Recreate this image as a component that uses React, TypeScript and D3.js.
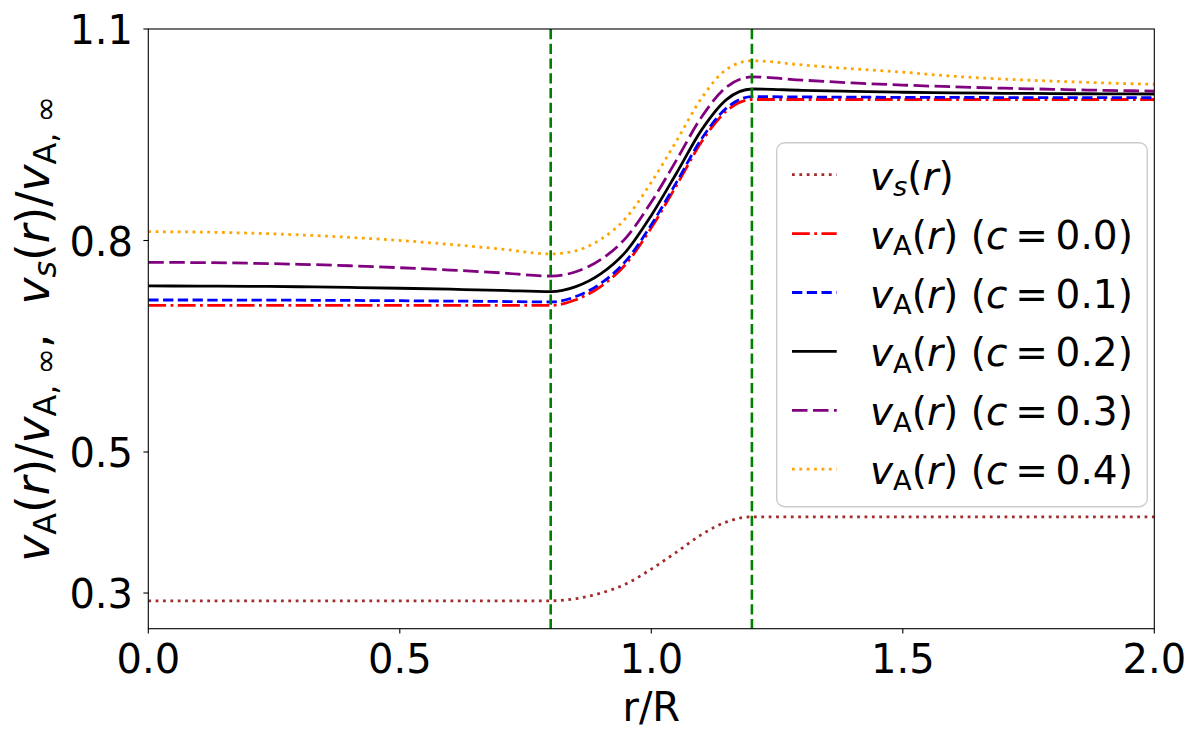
import React from 'react';
import * as d3 from 'd3';

// ---- data ----
const rValues = [0, 0.1, 0.2, 0.3, 0.4, 0.5, 0.6, 0.7, 0.8, 0.85, 0.9, 0.95, 1.0, 1.05, 1.1, 1.15, 1.2, 1.3, 1.4, 1.5, 1.6, 1.7, 1.8, 1.9, 2.0];

const vsValues = [0.289, 0.289, 0.289, 0.289, 0.289, 0.289, 0.289, 0.289, 0.289,
  0.292, 0.300, 0.313, 0.334, 0.358, 0.383, 0.401, 0.408,
  0.408, 0.408, 0.408, 0.408, 0.408, 0.408, 0.408, 0.408];

const vaC00 = [0.708, 0.708, 0.708, 0.708, 0.708, 0.708, 0.708, 0.708, 0.708,
  0.716, 0.735, 0.767, 0.818, 0.878, 0.940, 0.984, 1.0,
  1.0, 1.0, 1.0, 1.0, 1.0, 1.0, 1.0, 1.0];

const vaC01 = [0.7156, 0.7156, 0.7155, 0.7153, 0.7150, 0.7146, 0.7141, 0.7135, 0.7128,
  0.7205, 0.7394, 0.7714, 0.8224, 0.8824, 0.9444, 0.9882, 1.004,
  1.0036, 1.0033, 1.0031, 1.0029, 1.0028, 1.0027, 1.0026, 1.0025];

const vaC02 = [0.7355, 0.7354, 0.735, 0.7344, 0.7335, 0.7323, 0.7309, 0.7293, 0.7274,
  0.7346, 0.753, 0.7846, 0.8356, 0.8954, 0.9569, 1.0002, 1.0149,
  1.013, 1.0115, 1.0103, 1.0095, 1.0088, 1.0084, 1.008, 1.0078];

const vaC03 = [0.769, 0.7687, 0.7678, 0.7663, 0.7642, 0.7614, 0.7581, 0.7542, 0.7496,
  0.7557, 0.7732, 0.8042, 0.8546, 0.914, 0.9753, 1.018, 1.032,
  1.0275, 1.0235, 1.0205, 1.018, 1.016, 1.0145, 1.013, 1.012];

const vaC04 = [0.8125, 0.812, 0.8105, 0.808, 0.8045, 0.800, 0.7945, 0.788, 0.781,
  0.7855, 0.8019, 0.8322, 0.8826, 0.9412, 1.002, 1.043, 1.055,
  1.049, 1.0435, 1.0388, 1.033, 1.029, 1.026, 1.0235, 1.0216];

const cLabels = ['0.0', '0.1', '0.2', '0.3', '0.4'];
const xTicks = [0, 0.5, 1.0, 1.5, 2.0];
const yTicks = [0.3, 0.5, 0.8, 1.1];
const boundaryR = [0.8, 1.2];

// ---- layout / style ----
const W = 1200;
const H = 731;
const PL = 148.3, PR = 1154.3, PT = 29, PB = 628.7;
const FONT = 'DejaVu Sans';
const TICK_FS = 40;
const LEG_FS = 39;
const YLAB_FS = 45.5;
const LW = 2.78;

type Seg = { t: string; it?: boolean; sub?: boolean; dx?: number };

function MathTspans({ segs, fs }: { segs: Seg[]; fs: number }) {
  const out: React.ReactNode[] = [];
  let cur = 0;
  const shift = 0.16 * fs;
  segs.forEach((s, i) => {
    const target = s.sub ? shift : 0;
    const dy = target - cur;
    cur = target;
    out.push(
      <tspan key={i} dy={dy !== 0 ? dy : undefined} dx={s.dx}
        fontStyle={s.it ? 'italic' : 'normal'}
        fontSize={s.sub ? fs * 0.7 : fs}>{s.t}</tspan>
    );
  });
  return <>{out}</>;
}

const series = [
  { values: vsValues, color: '#a52a2a', dash: '2.78,4.59', lw: LW },
  { values: vaC00, color: '#ff0000', dash: '17.8,4.45,2.78,4.45', lw: LW },
  { values: vaC01, color: '#0000ff', dash: '10.3,4.45', lw: LW },
  { values: vaC02, color: '#000000', dash: undefined as string | undefined, lw: LW },
  { values: vaC03, color: '#800080', dash: '15.5,5.5', lw: LW },
  { values: vaC04, color: '#ffa500', dash: '2.78,4.59', lw: LW },
];

export default function App() {
  const x = d3.scaleLinear().domain([0, 2]).range([PL, PR]);
  const y = d3.scaleLinear().domain([0.2494, 1.1]).range([PB, PT]);

  const lineGen = (vals: number[]) =>
    d3.line<number>()
      .x((_, i) => x(rValues[i]))
      .y((v) => y(v))
      .curve(d3.curveMonotoneX)(vals) || '';

  const relSp = 0.2 * LEG_FS;
  const vsLabel: Seg[] = [{ t: 'v', it: true }, { t: 's', it: true, sub: true }, { t: '(' }, { t: 'r', it: true }, { t: ')' }];
  const vaLabel = (c: string): Seg[] => [
    { t: 'v', it: true }, { t: 'A', sub: true }, { t: '(' }, { t: 'r', it: true }, { t: ')\u00a0(' },
    { t: 'c', it: true }, { t: '=', dx: relSp }, { t: c + ')', dx: relSp },
  ];
  const legendLabels: Seg[][] = [vsLabel, ...cLabels.map(vaLabel)];

  const yLabel: Seg[] = [
    { t: 'v', it: true }, { t: 'A', sub: true }, { t: '(' }, { t: 'r', it: true }, { t: ')/' },
    { t: 'v', it: true }, { t: 'A,\u00a0∞', sub: true }, { t: ',\u00a0\u00a0' },
    { t: 'v', it: true }, { t: 's', it: true, sub: true }, { t: '(' }, { t: 'r', it: true }, { t: ')/' },
    { t: 'v', it: true }, { t: 'A,\u00a0∞', sub: true },
  ];

  const legX = 776.7, legY = 142.7, legW = 370.6, legH = 364;
  const rowY0 = 174.7, rowStep = 58.9;

  return (
    <svg width={W} height={H} viewBox={`0 0 ${W} ${H}`}
      style={{ position: 'absolute', left: 0, top: 0, display: 'block', background: '#fff' }}
      fontFamily={FONT}>
      <defs>
        <clipPath id="plotClip">
          <rect x={PL} y={PT} width={PR - PL} height={PB - PT} />
        </clipPath>
      </defs>
      <rect x={0} y={0} width={W} height={H} fill="#fff" />

      <g clipPath="url(#plotClip)">
        {series.map((s, i) => (
          <path key={i} d={lineGen(s.values)} fill="none" stroke={s.color}
            strokeWidth={s.lw} strokeDasharray={s.dash} strokeLinecap="butt" strokeLinejoin="round" />
        ))}
        {boundaryR.map((r) => (
          <line key={r} x1={x(r)} x2={x(r)} y1={PT} y2={PB} stroke="#008000"
            strokeWidth={2.6} strokeDasharray="10.3,4.45" />
        ))}
      </g>

      {/* frame */}
      <rect x={PL} y={PT} width={PR - PL} height={PB - PT} fill="none" stroke="#000" strokeWidth={1.1} />

      {/* x ticks */}
      {xTicks.map((t) => (
        <g key={t}>
          <line x1={x(t)} x2={x(t)} y1={PB} y2={PB + 4.9} stroke="#000" strokeWidth={1.1} />
          <text x={x(t)} y={672.7} textAnchor="middle" fontSize={TICK_FS} fill="#000">{t.toFixed(1)}</text>
        </g>
      ))}
      {/* y ticks */}
      {yTicks.map((t) => (
        <g key={t}>
          <line x1={PL - 4.9} x2={PL} y1={y(t)} y2={y(t)} stroke="#000" strokeWidth={1.1} />
          <text x={133} y={y(t) + 15} textAnchor="end" fontSize={TICK_FS} fill="#000">{t.toFixed(1)}</text>
        </g>
      ))}

      {/* axis labels */}
      <text x={(PL + PR) / 2} y={721} textAnchor="middle" fontSize={TICK_FS} fill="#000">r/R</text>
      <text transform={`translate(49, ${(PT + PB) / 2}) rotate(-90)`} textAnchor="middle" fontSize={YLAB_FS} fill="#000">
        <MathTspans segs={yLabel} fs={YLAB_FS} />
      </text>

      {/* legend */}
      <rect x={legX} y={legY} width={legW} height={legH} rx={8} ry={8}
        fill="#fff" fillOpacity={0.8} stroke="#cccccc" strokeWidth={1.4} />
      {series.map((s, i) => {
        const ry = rowY0 + i * rowStep;
        return (
          <g key={i}>
            <line x1={792} x2={836.7} y1={ry} y2={ry} stroke={s.color} strokeWidth={s.lw}
              strokeDasharray={s.dash} />
            <text x={870} y={ry + 15} fontSize={LEG_FS} fill="#000">
              <MathTspans segs={legendLabels[i]} fs={LEG_FS} />
            </text>
          </g>
        );
      })}
    </svg>
  );
}
